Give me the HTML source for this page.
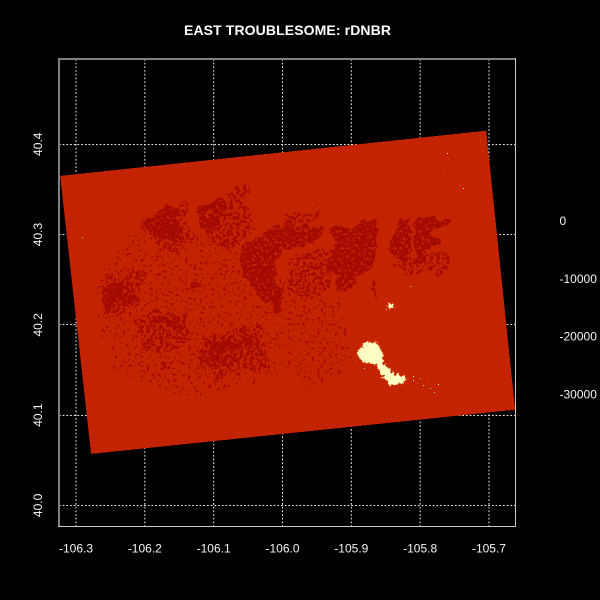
<!DOCTYPE html>
<html>
<head>
<meta charset="utf-8">
<title>EAST TROUBLESOME: rDNBR</title>
<style>
html,body{margin:0;padding:0;background:#000;width:600px;height:600px;overflow:hidden}
svg{display:block}
text{font-family:"Liberation Sans",sans-serif;fill:#f4f4f4;font-size:12px}
</style>
</head>
<body>
<svg id="chart" xmlns="http://www.w3.org/2000/svg" width="600" height="600" viewBox="0 0 600 600">
  <rect x="0" y="0" width="600" height="600" fill="#000"/>
  <defs>
    <clipPath id="plot-clip"><rect x="59" y="59" width="456.5" height="467"/></clipPath>
    <filter id="tex-dense" filterUnits="userSpaceOnUse" x="0" y="0" width="600" height="600" color-interpolation-filters="sRGB">
      <feTurbulence type="fractalNoise" baseFrequency="0.07" numOctaves="3" seed="3" result="warp"/>
      <feDisplacementMap in="SourceGraphic" in2="warp" scale="16" xChannelSelector="R" yChannelSelector="G" result="shape"/>
      <feTurbulence type="fractalNoise" baseFrequency="0.36" numOctaves="2" seed="7" result="grain"/>
      <feColorMatrix in="grain" type="matrix" values="0 0 0 0 0  0 0 0 0 0  0 0 0 0 0  24 0 0 0 -8.9" result="mask"/>
      <feComposite in="shape" in2="mask" operator="in"/>
    </filter>
    <filter id="tex-sparse" filterUnits="userSpaceOnUse" x="0" y="0" width="600" height="600" color-interpolation-filters="sRGB">
      <feTurbulence type="fractalNoise" baseFrequency="0.06" numOctaves="3" seed="11" result="warp"/>
      <feDisplacementMap in="SourceGraphic" in2="warp" scale="18" xChannelSelector="R" yChannelSelector="G" result="shape"/>
      <feTurbulence type="fractalNoise" baseFrequency="0.3" numOctaves="2" seed="19" result="grain"/>
      <feColorMatrix in="grain" type="matrix" values="0 0 0 0 0  0 0 0 0 0  0 0 0 0 0  24 0 0 0 -11.8" result="mask"/>
      <feComposite in="shape" in2="mask" operator="in"/>
    </filter>
    <filter id="tex-faint" filterUnits="userSpaceOnUse" x="0" y="0" width="600" height="600" color-interpolation-filters="sRGB">
      <feTurbulence type="fractalNoise" baseFrequency="0.05" numOctaves="2" seed="23" result="warp"/>
      <feDisplacementMap in="SourceGraphic" in2="warp" scale="24" xChannelSelector="R" yChannelSelector="G" result="shape"/>
      <feTurbulence type="fractalNoise" baseFrequency="0.34" numOctaves="2" seed="31" result="grain"/>
      <feColorMatrix in="grain" type="matrix" values="0 0 0 0 0  0 0 0 0 0  0 0 0 0 0  24 0 0 0 -15" result="mask"/>
      <feComposite in="shape" in2="mask" operator="in"/>
    </filter>
    <filter id="tex-rough" filterUnits="userSpaceOnUse" x="0" y="0" width="600" height="600" color-interpolation-filters="sRGB">
      <feTurbulence type="fractalNoise" baseFrequency="0.35" numOctaves="2" seed="5" result="warp"/>
      <feDisplacementMap in="SourceGraphic" in2="warp" scale="6" xChannelSelector="R" yChannelSelector="G"/>
    </filter>
  </defs>
  <text x="287.5" y="35" text-anchor="middle" textLength="207" style="font-size:14px;font-weight:bold;fill:#fff">EAST TROUBLESOME: rDNBR</text>
  <g id="grid"></g>
  <g id="raster" clip-path="url(#plot-clip)">
    <g id="layer-base"></g>
    <g id="layer-faint" filter="url(#tex-faint)"></g>
    <g id="layer-sparse" filter="url(#tex-sparse)"></g>
    <g id="layer-dense" filter="url(#tex-dense)"></g>
    <g id="layer-hole" filter="url(#tex-rough)"></g>
    <g id="layer-burn" filter="url(#tex-rough)"></g>
    <g id="layer-spot"></g>
  </g>
  <g id="frame">
    <rect x="58" y="58" width="458" height="2" fill="#808080"/>
    <rect x="58" y="58" width="2" height="469" fill="#808080"/>
    <rect x="58" y="526" width="458" height="1" fill="#c8c8c8"/>
    <rect x="515" y="58" width="1" height="469" fill="#c8c8c8"/>
  </g>
  <g id="x-axis"></g>
  <g id="y-axis"></g>
  <g id="legend"></g>
</svg>
<script>
const lonTicks = [-106.3, -106.2, -106.1, -106.0, -105.9, -105.8, -105.7];
const latTicks = [40.0, 40.1, 40.2, 40.3, 40.4];
const legendValues = [0, -10000, -20000, -30000];

const footprintLon = [-106.323, -105.704, -105.662, -106.278];
const footprintLat = [40.365, 40.415, 40.106, 40.057];
const footprintValue = 0;

const patchClasses = ['faint','faint','dense','hole','dense','sparse','dense','dense','sparse','sparse','dense','dense','sparse','dense','sparse','dense','sparse','dense','sparse','dense','sparse','dense','dense','dense','dense','sparse','sparse','sparse','sparse','sparse','sparse','sparse','sparse','sparse','sparse'];
const patchNames = ['west-speckle','south-speckle','scar-a','scar-a-hole','scar-b','scar-c','scar-e','scar-f','scar-g','scar-z','scar-h','scar-i','scar-j','scar-k','scar-l','scar-m','scar-n','scar-o','scar-p','scar-q','scar-u','scar-r','scar-s','scar-t','scar-x','scar-v','scar-w','scar-y','scar-d','halo-q','halo-o','halo-m','halo-b','halo-a','halo-east'];
const patchLons = [
  [-106.265,-106.207,-106.055,-105.975,-105.989,-106.120,-106.222,-106.265],
  [-105.999,-105.916,-105.909,-105.975],
  [-106.124,-106.091,-106.084,-106.088,-106.102,-106.117,-106.123],
  [-106.113,-106.106,-106.102,-106.110],
  [-106.203,-106.174,-106.163,-106.156,-106.149,-106.156,-106.174,-106.193],
  [-106.088,-106.073,-106.050,-106.044,-106.066],
  [-106.062,-106.018,-105.936,-105.965,-106.004,-106.015,-105.999,-106.018,-106.047,-106.058],
  [-105.930,-105.861,-105.862,-105.877,-105.895,-105.897,-105.916,-105.924,-105.934,-105.928],
  [-105.994,-105.960,-105.936,-105.931,-105.956,-105.975,-105.989],
  [-105.999,-105.941,-105.931,-105.964,-105.989],
  [-105.847,-105.829,-105.812,-105.815,-105.819,-105.834,-105.847],
  [-105.805,-105.760,-105.760,-105.789,-105.771,-105.790,-105.807,-105.810],
  [-105.786,-105.768,-105.767,-105.781],
  [-105.870,-105.864,-105.864,-105.868],
  [-106.014,-105.975,-105.943,-105.950,-105.989],
  [-106.265,-106.246,-106.211,-106.211,-106.243,-106.255,-106.261],
  [-106.251,-106.217,-106.211,-106.236],
  [-106.182,-106.142,-106.149,-106.182],
  [-106.211,-106.193,-106.175,-106.204],
  [-106.113,-106.065,-106.065,-106.101],
  [-106.124,-106.105,-106.105,-106.120],
  [-106.110,-106.076,-106.065,-106.086,-106.110],
  [-106.059,-106.043,-106.037,-106.055],
  [-106.052,-106.015,-106.015,-106.004,-105.999,-106.008,-106.015,-106.037],
  [-106.132,-106.116,-106.127],
  [-106.037,-106.025,-106.025,-106.037],
  [-106.174,-106.152,-106.163,-106.185],
  [-106.246,-106.236,-106.239],
  [-106.053,-106.043,-106.043,-106.053],
  [-106.124,-106.033,-106.018,-106.098],
  [-106.214,-106.134,-106.141,-106.207],
  [-106.258,-106.207,-106.207,-106.258],
  [-106.203,-106.142,-106.127,-106.178],
  [-106.113,-106.062,-106.040,-106.062,-106.105],
  [-105.837,-105.764,-105.757,-105.829]
];
const patchLats = [
  [40.261,40.305,40.300,40.228,40.150,40.117,40.139,40.194],
  [40.227,40.233,40.150,40.122],
  [40.330,40.339,40.333,40.318,40.303,40.307,40.318],
  [40.322,40.328,40.325,40.319],
  [40.311,40.329,40.335,40.318,40.300,40.292,40.296,40.302],
  [40.344,40.349,40.355,40.344,40.338],
  [40.283,40.308,40.308,40.283,40.280,40.253,40.238,40.228,40.242,40.261],
  [40.308,40.313,40.275,40.257,40.253,40.239,40.236,40.253,40.264,40.286],
  [40.264,40.283,40.283,40.261,40.231,40.250,40.253],
  [40.255,40.261,40.246,40.224,40.238],
  [40.294,40.318,40.319,40.280,40.269,40.270,40.280],
  [40.318,40.319,40.313,40.302,40.291,40.280,40.266,40.294],
  [40.266,40.275,40.263,40.257],
  [40.250,40.250,40.233,40.233],
  [40.313,40.327,40.327,40.318,40.313],
  [40.236,40.246,40.231,40.224,40.224,40.211,40.224],
  [40.257,40.259,40.246,40.246],
  [40.209,40.205,40.198,40.200],
  [40.200,40.202,40.175,40.172],
  [40.178,40.185,40.175,40.170],
  [40.169,40.170,40.153,40.152],
  [40.169,40.167,40.158,40.159,40.159],
  [40.189,40.189,40.174,40.174],
  [40.261,40.261,40.246,40.235,40.220,40.209,40.224,40.242],
  [40.248,40.246,40.236],
  [40.169,40.164,40.153,40.158],
  [40.161,40.156,40.152,40.152],
  [40.156,40.153,40.148],
  [40.322,40.322,40.314,40.314],
  [40.183,40.205,40.150,40.144],
  [40.211,40.214,40.178,40.167],
  [40.255,40.261,40.222,40.205],
  [40.314,40.338,40.288,40.283],
  [40.305,40.349,40.311,40.283,40.288],
  [40.272,40.278,40.261,40.255]
];

const burnLons = [
  [-105.892,-105.880,-105.863,-105.854,-105.854,-105.841,-105.819,-105.825,-105.843,-105.855,-105.863,-105.883],
  [-105.847,-105.840,-105.838,-105.845]
];
const burnLats = [
  [40.167,40.181,40.180,40.167,40.158,40.147,40.141,40.136,40.133,40.144,40.156,40.159],
  [40.225,40.223,40.219,40.219]
];
const burnValue = -30000;
const burnEdgeValue = -8000;

const spotLons = [-105.761,-105.738,-105.735,-105.717,-105.710,-105.717,-105.728,-105.723,-105.713,-105.710,-105.760,-105.765,-105.752,-105.742,-105.834,-105.938,-105.957,-106.291,-105.816,-105.813,-105.811,-105.796,-105.786,-105.780,-105.774,-105.800,-105.789,-105.895,-105.882,-105.850,-105.849,-105.810,-105.805];
const spotLats = [40.390,40.352,40.307,40.314,40.267,40.211,40.228,40.407,40.405,40.394,40.384,40.373,40.375,40.355,40.239,40.372,40.335,40.297,40.243,40.243,40.139,40.133,40.130,40.126,40.135,40.141,40.137,40.161,40.152,40.218,40.230,40.143,40.136];
const spotValues = [-30000,-30000,-8000,-8000,-8000,-8000,-8000,-8000,-8000,-8000,-8000,-8000,-8000,-8000,-8000,-8000,-8000,-20000,-8000,-20000,-20000,-20000,-20000,-20000,-30000,-20000,-8000,-8000,-20000,-20000,-8000,-30000,-8000];

const SVGNS = 'http://www.w3.org/2000/svg';
const BASE = '#c42300';
const DARK = '#a30a00';

function xScale(lon) { return 76 + (lon + 106.3) * 688.3; }
function yScale(lat) { return 505.4 - (lat - 40) * 902.8; }
function legendY(v) { return 225 - v * 0.00578; }
function valueColor(v) {
  if (v <= -25000) return '#ffffc4';
  if (v <= -15000) return '#ffc81e';
  if (v <= -5000) return '#e8560a';
  return BASE;
}
function pointsFor(lons, lats) {
  return lons.map(function (lon, i) {
    return xScale(lon).toFixed(1) + ',' + yScale(lats[i]).toFixed(1);
  }).join(' ');
}

const gridG = document.getElementById('grid');
lonTicks.forEach(function (lon) {
  const line = document.createElementNS(SVGNS, 'line');
  
  
  line.setAttribute('x1', xScale(lon));
  line.setAttribute('x2', xScale(lon));
  line.setAttribute('y1', 59);
  line.setAttribute('y2', 526);
  line.setAttribute('stroke', '#f0f0f0');
  line.setAttribute('stroke-dasharray', '1.7 2');
  gridG.appendChild(line);
});
latTicks.forEach(function (lat) {
  const line = document.createElementNS(SVGNS, 'line');
  
  
  line.setAttribute('x1', 59);
  line.setAttribute('x2', 515);
  line.setAttribute('y1', Math.floor(yScale(lat)) + 0.5);
  line.setAttribute('y2', Math.floor(yScale(lat)) + 0.5);
  line.setAttribute('stroke', '#f0f0f0');
  line.setAttribute('stroke-dasharray', '1.7 2');
  gridG.appendChild(line);
});

const footprint = document.createElementNS(SVGNS, 'polygon');


footprint.setAttribute('points', pointsFor(footprintLon, footprintLat));
footprint.setAttribute('fill', valueColor(footprintValue));
footprint.setAttribute('shape-rendering', 'crispEdges');
document.getElementById('layer-base').appendChild(footprint);

patchLons.forEach(function (lons, i) {
  const kind = patchClasses[i];
  const patch = document.createElementNS(SVGNS, 'polygon');
  
  
  patch.setAttribute('points', pointsFor(lons, patchLats[i]));
  patch.setAttribute('fill', kind === 'hole' ? BASE : DARK);
  document.getElementById('layer-' + kind).appendChild(patch);
});

burnLons.forEach(function (lons, i) {
  const burn = document.createElementNS(SVGNS, 'polygon');
  
  
  burn.setAttribute('points', pointsFor(lons, burnLats[i]));
  burn.setAttribute('fill', valueColor(burnValue));
  burn.setAttribute('stroke', valueColor(burnEdgeValue));
  burn.setAttribute('stroke-width', 1);
  burn.setAttribute('paint-order', 'stroke');
  document.getElementById('layer-burn').appendChild(burn);
});

spotLons.forEach(function (lon, i) {
  const spot = document.createElementNS(SVGNS, 'rect');
  
  
  spot.setAttribute('x', Math.round(xScale(lon)));
  spot.setAttribute('y', Math.round(yScale(spotLats[i])));
  spot.setAttribute('width', 1);
  spot.setAttribute('height', 1);
  spot.setAttribute('fill', valueColor(spotValues[i]));
  document.getElementById('layer-spot').appendChild(spot);
});

const xAxisG = document.getElementById('x-axis');
lonTicks.forEach(function (lon) {
  const label = document.createElementNS(SVGNS, 'text');
  
  
  label.setAttribute('x', xScale(lon));
  label.setAttribute('y', 552.5);
  label.setAttribute('text-anchor', 'middle');
  label.textContent = lon.toFixed(1);
  xAxisG.appendChild(label);
});

const yAxisG = document.getElementById('y-axis');
latTicks.forEach(function (lat) {
  const label = document.createElementNS(SVGNS, 'text');
  
  
  label.setAttribute('text-anchor', 'middle');
  label.setAttribute('transform', 'translate(42 ' + yScale(lat) + ') rotate(-90)');
  label.textContent = lat.toFixed(1);
  yAxisG.appendChild(label);
});

const legendG = document.getElementById('legend');
legendValues.forEach(function (v) {
  const label = document.createElementNS(SVGNS, 'text');
  
  
  label.setAttribute('x', 559.5);
  label.setAttribute('y', legendY(v));
  label.textContent = String(v);
  legendG.appendChild(label);
});
</script>
</body>
</html>
